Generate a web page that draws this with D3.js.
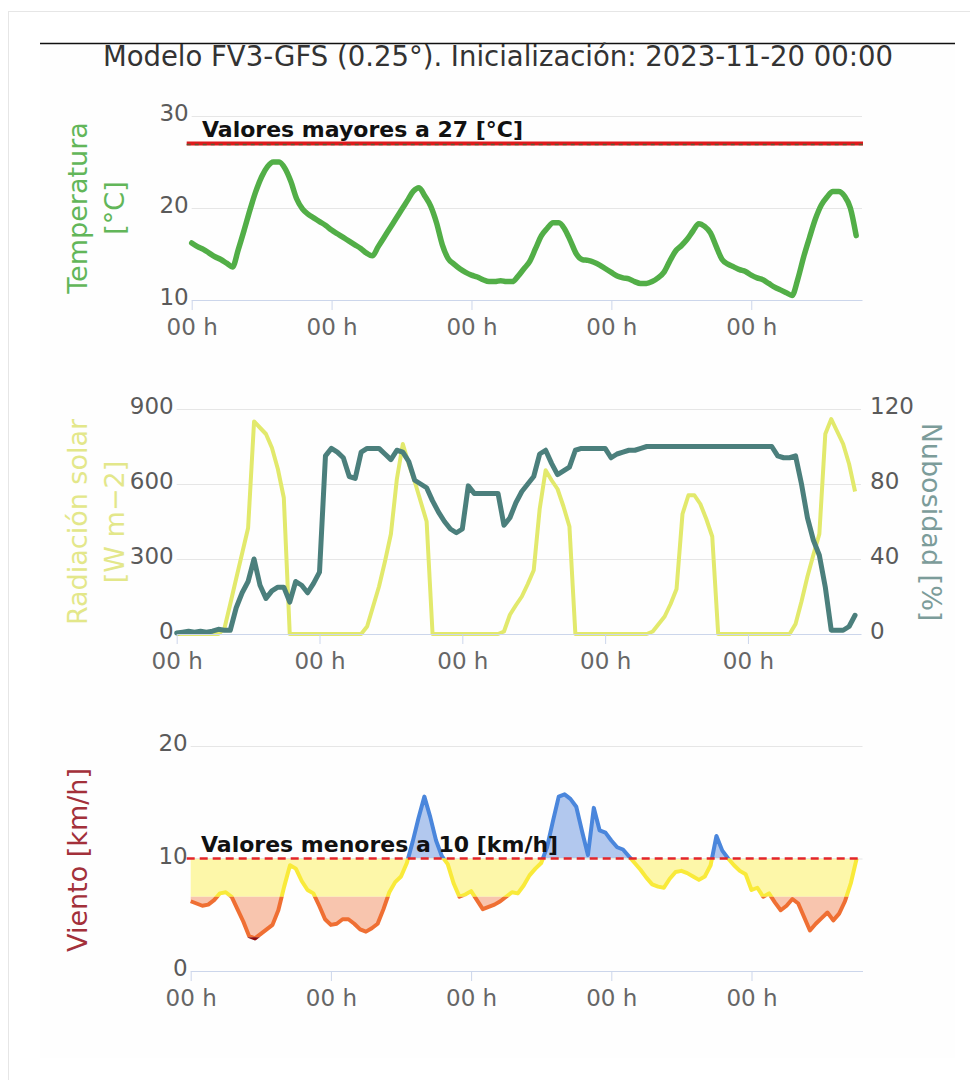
<!DOCTYPE html>
<html>
<head>
<meta charset="utf-8">
<script src="https://cdn.jsdelivr.net/npm/d3@7"></script>
<style>
  body { margin: 0; background: #fff; }
</style>
</head>
<body>
<svg id="chart" width="970" height="1080"></svg>
<script>
// hourly forecast steps, 0 = initialisation (shown as "00 h")
const hours = d3.range(0, 115);
const dayTicks = [0, 24, 48, 72, 96];

const tempC = [
  16.2, 15.8, 15.5, 15.1, 14.7, 14.4, 14.0, 13.6, 15.5, 17.6,
  19.8, 21.8, 23.4, 24.5, 25.0, 25.0, 24.3, 22.9, 21.0, 19.9,
  19.3, 18.9, 18.5, 18.1, 17.6, 17.2, 16.8, 16.4, 16.0, 15.6,
  15.1, 14.8, 15.8, 16.8, 17.8, 18.8, 19.8, 20.8, 21.8, 22.2,
  21.3, 20.2, 18.4, 16.0, 14.5, 13.9, 13.4, 13.0, 12.7, 12.5,
  12.2, 12.0, 12.0, 12.1, 12.0, 12.0, 12.6, 13.4, 14.2, 15.6,
  17.0, 17.8, 18.4, 18.4, 17.7, 16.4, 15.0, 14.4, 14.3, 14.1,
  13.8, 13.4, 13.0, 12.6, 12.4, 12.3, 12.0, 11.8, 11.8, 12.0,
  12.4, 13.0, 14.2, 15.3, 15.9, 16.6, 17.5, 18.3, 18.0, 17.3,
  15.8, 14.4, 13.9, 13.6, 13.3, 13.1, 12.7, 12.4, 12.2, 11.8,
  11.4, 11.1, 10.8, 10.5, 12.3, 14.7, 16.8, 18.8, 20.3, 21.2,
  21.8, 21.8, 21.3, 20.0, 17.0
];

const radiation = [
  0, 0, 0, 0, 0, 0, 0, 0, 20, 120,
  222, 323, 424, 850, 825, 800, 745, 660, 545, 0,
  0, 0, 0, 0, 0, 0, 0, 0, 0, 0,
  0, 0, 30, 110, 190, 290, 400, 620, 760, 680,
  610, 530, 450, 0, 0, 0, 0, 0, 0, 0,
  0, 0, 0, 0, 0, 10, 77, 115, 150, 200,
  255, 500, 655, 615, 580, 510, 430, 0, 0, 0,
  0, 0, 0, 0, 0, 0, 0, 0, 0, 0,
  10, 40, 70, 120, 180, 480, 555, 555, 520, 460,
  390, 0, 0, 0, 0, 0, 0, 0, 0, 0,
  0, 0, 0, 0, 40, 130, 230, 317, 400, 800,
  860, 810, 760, 680, 570
];

const cloudCover = [
  0.5, 1, 1.5, 1, 1.5, 1, 1.5, 2.5, 2, 2,
  14, 22, 28, 40, 26, 19, 23, 25, 25, 17,
  28, 26, 22, 27, 33, 95, 99, 97, 94, 84,
  83, 97, 99, 99, 99, 96, 93, 98, 97, 92,
  82, 80, 78, 71, 65, 60, 56, 54, 56, 79,
  75, 75, 75, 75, 75, 58, 62, 70, 76, 80,
  84, 96, 98, 91, 85, 87, 89, 98, 99, 99,
  99, 99, 99, 94, 96, 97, 98, 98, 99, 100,
  100, 100, 100, 100, 100, 100, 100, 100, 100, 100,
  100, 100, 100, 100, 100, 100, 100, 100, 100, 100,
  100, 95, 94, 94, 95, 80, 62, 50, 42, 25,
  2, 2, 2, 4, 10
];

const windKmh = [
  6.2, 6.0, 5.8, 5.9, 6.3, 6.9, 7.0, 6.6, 5.5, 4.4,
  3.1, 2.9, 3.3, 3.7, 4.1, 5.4, 7.5, 9.4, 9.1, 8.0,
  7.2, 6.9, 5.8, 4.6, 4.1, 4.2, 4.6, 4.6, 4.2, 3.7,
  3.5, 3.8, 4.2, 5.5, 7.0, 7.9, 8.4, 9.6, 11.5, 13.6,
  15.5, 13.7, 11.6, 10.2, 9.5, 7.8, 6.6, 6.8, 7.1, 6.3,
  5.5, 5.7, 5.9, 6.2, 6.6, 7.0, 6.9, 7.6, 8.5, 9.1,
  9.6, 11.0, 13.3, 15.5, 15.7, 15.3, 14.6, 12.4, 10.3, 14.5,
  12.5, 12.3, 11.6, 11.0, 10.8, 10.2, 9.6, 9.0, 8.3, 7.7,
  7.5, 7.4, 8.2, 8.8, 8.9, 8.7, 8.4, 8.1, 8.4, 9.4,
  12.0, 10.7, 10.0, 9.4, 8.9, 8.6, 7.2, 7.4, 6.6, 6.9,
  6.1, 5.4, 5.8, 6.4, 6.0, 4.8, 3.6, 4.2, 4.7, 5.2,
  4.5, 5.1, 6.2, 7.8, 10.0
];

const tempThreshold = 27;
const windThreshold = 10;

const FONT = '"DejaVu Sans", "Lucida Grande", sans-serif';
const svg = d3.select("#chart");

// page frame + title
svg.append("rect")
    .attr("x", 8.5).attr("y", 11.5)
    .attr("width", 990).attr("height", 1100)
    .attr("fill", "none").attr("stroke", "#e6e6e6");

svg.append("rect")
    .attr("x", 40).attr("y", 44)
    .attr("width", 915).attr("height", 1014)
    .attr("fill", "#fefefe");

svg.append("line")
    .attr("x1", 40).attr("x2", 955)
    .attr("y1", 43.5).attr("y2", 43.5)
    .attr("stroke", "#111").attr("stroke-width", 1.5);

svg.append("text")
    .attr("x", 498).attr("y", 66)
    .attr("text-anchor", "middle")
    .attr("font-family", FONT).attr("font-size", 27.5)
    .attr("fill", "#333")
    .text("Modelo FV3-GFS (0.25°). Inicialización: 2023-11-20 00:00");


function timeAxis(x, yPos) {
    svg.append("g")
        .attr("transform", "translate(0," + yPos + ")")
        .call(d3.axisBottom(x).tickValues(dayTicks).tickFormat(() => "00 h")
            .tickSize(10).tickPadding(9).tickSizeOuter(0))
        .attr("font-family", FONT).attr("font-size", 23)
        .call(a => {
            a.select(".domain").attr("stroke", "#ccd6eb");
            a.selectAll(".tick line").attr("stroke", "#ccd6eb");
            a.selectAll(".tick text").attr("fill", "#666");
        });
}

function gridAxis(y, x, ticks) {
    svg.append("g")
        .attr("transform", "translate(" + x.range()[0] + ",0)")
        .call(d3.axisLeft(y).tickValues(ticks)
            .tickSize(-(x.range()[1] - x.range()[0])).tickPadding(3))
        .attr("font-family", FONT).attr("font-size", 23)
        .call(a => {
            a.select(".domain").remove();
            a.selectAll(".tick line").attr("stroke", "#e6e6e6");
            a.selectAll(".tick text").attr("fill", "#5a5a5a").attr("dy", "0.2em");
        });
}

function axisTitle(lines, cx, cy, color, angle) {
    let t = svg.append("text")
        .attr("transform", "translate(" + cx + "," + cy + ") rotate(" + angle + ")")
        .attr("text-anchor", "middle")
        .attr("font-family", FONT).attr("font-size", 27)
        .attr("fill", color);
    lines.forEach((s, i) => {
        t.append("tspan")
            .attr("x", 0)
            .attr("y", (i - (lines.length - 1) / 2) * 37)
            .attr("dy", "0.35em")
            .text(s);
    });
}

function bandLabel(text, x, y) {
    svg.append("text")
        .attr("x", x).attr("y", y)
        .attr("font-family", FONT).attr("font-size", 22)
        .attr("font-weight", "bold").attr("fill", "#111")
        .text(text);
}


// ---------- temperature ----------
function drawTemperature() {
    let x = d3.scaleLinear().domain([0, 115]).range([191.7, 862]);
    let y = d3.scaleLinear().domain([10, 30]).range([300, 116]);

    gridAxis(y, x, [10, 20, 30]);

    let line = d3.line()
        .x(h => x(h))
        .y(h => y(tempC[h]))
        .curve(d3.curveMonotoneX);

    svg.append("path")
        .datum(hours)
        .attr("fill", "none")
        .attr("stroke", "#52ae47")
        .attr("stroke-width", 5.5)
        .attr("stroke-linejoin", "round")
        .attr("stroke-linecap", "round")
        .attr("d", line);

    svg.append("line")
        .attr("x1", x(0) - 5).attr("x2", x(115) + 1)
        .attr("y1", y(tempThreshold)).attr("y2", y(tempThreshold))
        .attr("stroke", "#e0191c").attr("stroke-width", 4);
    svg.append("line")
        .attr("x1", x(0) - 5).attr("x2", x(115) + 1)
        .attr("y1", y(tempThreshold) + 1).attr("y2", y(tempThreshold) + 1)
        .attr("stroke", "#5d5a34").attr("stroke-width", 1.5)
        .attr("stroke-dasharray", "4,4");

    bandLabel("Valores mayores a 27 [°C]", 202, 137);

    timeAxis(x, 300);
    axisTitle(["Temperatura", "[°C]"], 96, 208, "#62b659", -90);
}


// ---------- solar radiation + cloud cover ----------
function drawRadiationClouds() {
    let x = d3.scaleLinear().domain([0, 115]).range([176.7, 861]);
    let yRad = d3.scaleLinear().domain([0, 900]).range([634, 409]);
    let yCloud = d3.scaleLinear().domain([0, 120]).range([634, 409]);

    gridAxis(yRad, x, [0, 300, 600, 900]);

    svg.append("g")
        .attr("transform", "translate(" + x.range()[1] + ",0)")
        .call(d3.axisRight(yCloud).tickValues([0, 40, 80, 120]).tickSize(0).tickPadding(9))
        .attr("font-family", FONT).attr("font-size", 23)
        .call(a => {
            a.select(".domain").remove();
            a.selectAll(".tick text").attr("fill", "#5a5a5a").attr("dy", "0.2em");
        });

    svg.append("path")
        .datum(hours)
        .attr("fill", "none")
        .attr("stroke", "#e2e96c")
        .attr("stroke-width", 4)
        .attr("stroke-linejoin", "round")
        .attr("d", d3.line().x(h => x(h)).y(h => yRad(radiation[h])));

    svg.append("path")
        .datum(hours)
        .attr("fill", "none")
        .attr("stroke", "#4b7f7c")
        .attr("stroke-width", 5)
        .attr("stroke-linejoin", "round")
        .attr("stroke-linecap", "round")
        .attr("d", d3.line().x(h => x(h)).y(h => yCloud(cloudCover[h])));

    timeAxis(x, 634);
    axisTitle(["Radiación solar", "[W m\u22122]"], 96, 522, "#e3e78a", -90);
    axisTitle(["Nubosidad [%]"], 931, 522, "#7c9c9a", 90);
}


// ---------- wind, coloured by zones ----------
function drawWind() {
    let x = d3.scaleLinear().domain([0, 115]).range([190.7, 862.5]);
    let y = d3.scaleLinear().domain([0, 20]).range([971, 746]);

    gridAxis(y, x, [0, 10, 20]);

    let zones = [
        {from: 10, to: 30, line: "#4a86dc", fill: "#b2c8ee"},
        {from: 6.6, to: 10, line: "#f9ea3a", fill: "#fdf7a9"},
        {from: 3, to: 6.6, line: "#ef6f33", fill: "#f8c5ae"},
        {from: -5, to: 3, line: "#8b0f10", fill: "#c98080"}
    ];

    let defs = svg.append("defs");
    zones.forEach((z, i) => {
        defs.append("clipPath").attr("id", "zone" + i)
            .append("rect")
            .attr("x", x(0) - 10).attr("width", x(115) - x(0) + 20)
            .attr("y", y(z.to)).attr("height", y(z.from) - y(z.to));
    });

    let area = d3.area()
        .x(h => x(h))
        .y0(y(windThreshold))
        .y1(h => y(windKmh[h]));
    let line = d3.line()
        .x(h => x(h))
        .y(h => y(windKmh[h]));

    zones.forEach((z, i) => {
        svg.append("path")
            .datum(hours)
            .attr("clip-path", "url(#zone" + i + ")")
            .attr("fill", z.fill)
            .attr("d", area);
    });
    zones.forEach((z, i) => {
        svg.append("path")
            .datum(hours)
            .attr("clip-path", "url(#zone" + i + ")")
            .attr("fill", "none")
            .attr("stroke", z.line)
            .attr("stroke-width", 4)
            .attr("stroke-linejoin", "round")
            .attr("d", line);
    });

    svg.append("line")
        .attr("x1", x(0) - 4).attr("x2", x(115))
        .attr("y1", y(windThreshold)).attr("y2", y(windThreshold))
        .attr("stroke", "#e3262a").attr("stroke-width", 2.5)
        .attr("stroke-dasharray", "8,5");

    bandLabel("Valores menores a 10 [km/h]", 201, 852);

    timeAxis(x, 971);
    axisTitle(["Viento [km/h]"], 78, 860, "#a3303a", -90);
}

drawTemperature();
drawRadiationClouds();
drawWind();
</script>
</body>
</html>
